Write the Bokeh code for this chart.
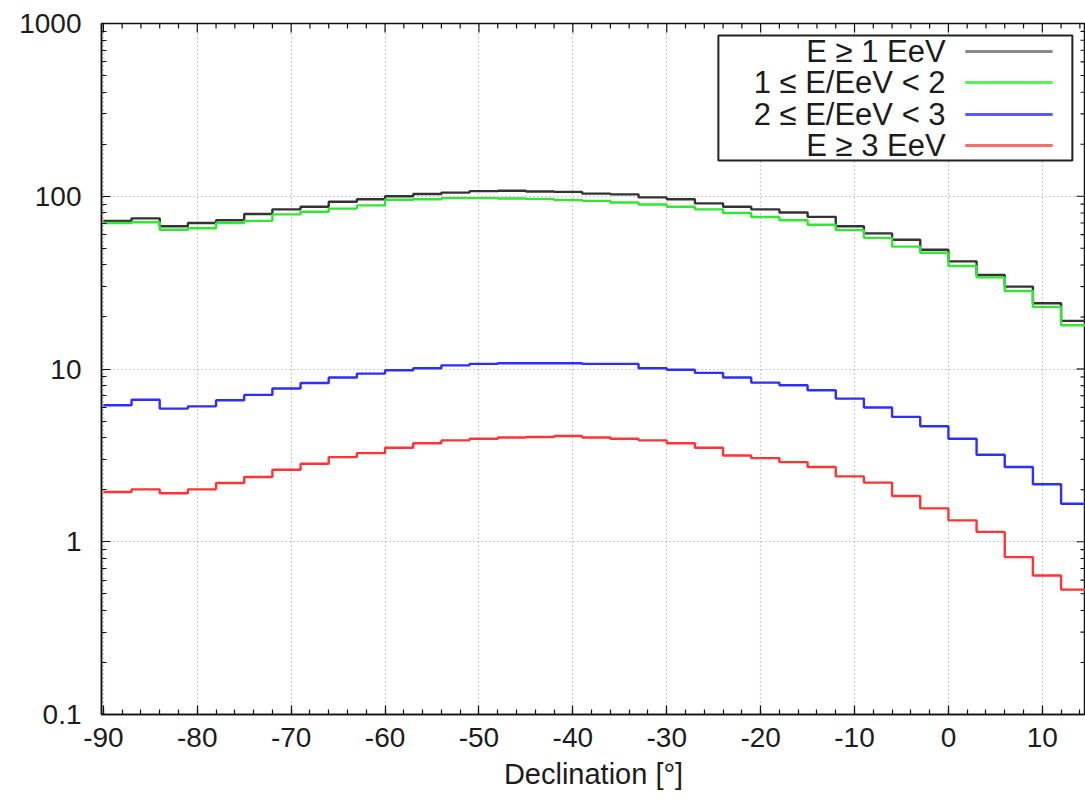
import math

from bokeh.plotting import figure
from bokeh.models import Range1d, FixedTicker, CustomJSTickFormatter, BoxAnnotation
from bokeh.core.properties import value
from bokeh.embed import file_html
from bokeh.resources import INLINE

# Declination bins of 3 degrees (edges)
DEC_EDGES = list(range(-90, 16, 3))

# Exposure-weighted event counts per declination bin
E_GE_1 = [72, 74.5, 67, 70, 72.6, 79, 84, 87, 93, 96,
          100, 103, 105, 107, 107.5, 106.5, 106, 103.5, 102.5, 98.5,
          96, 91, 87, 84, 80.5, 76, 67, 61, 56, 49,
          42, 35, 30, 24, 19]
E_1_2 = [70, 70.7, 64, 65.3, 70, 72, 78.5, 81.3, 84.8, 88.5,
         95.5, 96, 97.5, 97.5, 97, 96.5, 95, 94, 92, 89.5,
         87, 84, 80, 75.8, 72.6, 68.4, 63.7, 57.4, 51.1, 47.1,
         39.5, 33.9, 28.3, 22.9, 17.9]
E_2_3 = [6.17, 6.64, 5.90, 6.08, 6.59, 7.08, 7.71, 8.30, 8.92, 9.40,
         9.83, 10.1, 10.5, 10.7, 10.8, 10.8, 10.8, 10.7, 10.7, 10.1,
         9.9, 9.5, 8.92, 8.34, 8.05, 7.53, 6.74, 5.98, 5.28, 4.66,
         3.95, 3.19, 2.71, 2.15, 1.66]
E_GE_3 = [1.94, 2.01, 1.91, 2.01, 2.19, 2.37, 2.61, 2.83, 3.09, 3.26,
          3.5, 3.72, 3.86, 3.95, 4.01, 4.04, 4.09, 4.01, 3.95, 3.86,
          3.72, 3.5, 3.16, 3.05, 2.89, 2.71, 2.39, 2.2, 1.84, 1.56,
          1.33, 1.14, 0.815, 0.638, 0.528]

SERIES_LABELS = ["E \u2265 1 EeV", "1 \u2264 E/EeV < 2",
                 "2 \u2264 E/EeV < 3", "E \u2265 3 EeV"]
SERIES_COLORS = ["#333333", "#33e633", "#2e2eff", "#ff3535"]
LEGEND_SWATCH = ["#8a8a8a", "#5cf05c", "#5858ff", "#ff6a6a"]

X_TICKS = list(range(-90, 91, 10))
X_MINOR = list(range(-90, 91, 2))
Y_TICKS = [0.1, 1, 10, 100, 1000]
Y_MINOR = [m * 10.0 ** k for k in range(-1, 3) for m in range(2, 10)]

X_START, X_END = -90.2, 14.6
Y_START, Y_END = 0.1, 1000

FONT = "Liberation Sans"
TXT = "#1c1c1c"
AX = "#111111"

p = figure(width=1085, height=807,
           x_range=Range1d(X_START, X_END), y_range=Range1d(Y_START, Y_END),
           y_axis_type="log", output_backend="svg", toolbar_location=None,
           min_border_left=101, min_border_right=0,
           min_border_top=23, min_border_bottom=93)
p.background_fill_color = "white"
p.border_fill_color = "white"
p.outline_line_color = AX
p.outline_line_width = 1.5

plain = CustomJSTickFormatter(code="return String(tick);")


def style_axis(ax):
    ax.major_tick_in = 9
    ax.major_tick_out = 0
    ax.minor_tick_in = 5
    ax.minor_tick_out = 0
    ax.axis_line_width = 1.5
    ax.axis_line_color = AX
    ax.major_tick_line_color = AX
    ax.minor_tick_line_color = AX
    ax.major_tick_line_width = 1.2
    ax.minor_tick_line_width = 1.2
    ax.major_label_text_font = FONT
    ax.major_label_text_font_size = "28px"
    ax.major_label_text_color = TXT
    ax.formatter = plain


xa = p.xaxis[0]
style_axis(xa)
xa.ticker = FixedTicker(ticks=X_TICKS, minor_ticks=X_MINOR)
xa.major_label_standoff = 13
xa.axis_label = "Declination [\u00b0]"
xa.axis_label_text_font = FONT
xa.axis_label_text_font_size = "29px"
xa.axis_label_text_font_style = "normal"
xa.axis_label_text_color = TXT
xa.axis_label_standoff = 8

ya = p.yaxis[0]
style_axis(ya)
ya.ticker = FixedTicker(ticks=Y_TICKS, minor_ticks=Y_MINOR)
ya.major_label_standoff = 20

# mirrored inward ticks on the top and right edges of the frame
top_x = [v for v in X_MINOR if X_START <= v <= X_END]
top_len = [9 if v in X_TICKS else 5 for v in top_x]
p.ray(x=top_x, y=[Y_END] * len(top_x), length=top_len, length_units="screen",
      angle=-math.pi / 2, line_color=AX, line_width=1.2)
right_y = Y_TICKS + Y_MINOR
right_len = [9] * len(Y_TICKS) + [5] * len(Y_MINOR)
p.ray(x=[X_END] * len(right_y), y=right_y, length=right_len,
      length_units="screen", angle=math.pi, line_color=AX, line_width=1.2)

for g in (p.xgrid[0], p.ygrid[0]):
    g.grid_line_color = "#9a9a9a"
    g.grid_line_dash = "1 3"
    g.grid_line_width = 1.2
p.xgrid[0].ticker = FixedTicker(ticks=[v for v in X_TICKS if X_START < v < X_END])
p.ygrid[0].ticker = FixedTicker(ticks=[1, 10, 100])

# step histograms
for vals, col in zip([E_GE_1, E_1_2, E_2_3, E_GE_3], SERIES_COLORS):
    p.step(x=DEC_EDGES, y=vals + [vals[-1]], mode="after",
           line_color=col, line_width=2.4)

# legend box (white, above the grid but below the legend entries)
p.add_layout(BoxAnnotation(left=-24.5, right=13.2, bottom=161, top=852,
                           fill_color="white", fill_alpha=1.0,
                           line_color="#222222", line_width=2, line_alpha=1.0,
                           level="underlay"))
rows_y = [689, 455, 297, 197]
p.text(x=[-0.3] * 4, y=rows_y, text=SERIES_LABELS,
       text_align="right", text_baseline="middle",
       text_font=value(FONT), text_font_size="31px", text_color=TXT)
p.segment(x0=[1.8] * 4, y0=rows_y, x1=[11.1] * 4, y1=rows_y,
          line_color=LEGEND_SWATCH, line_width=3)

open("out.html", "w").write(file_html(p, INLINE))
